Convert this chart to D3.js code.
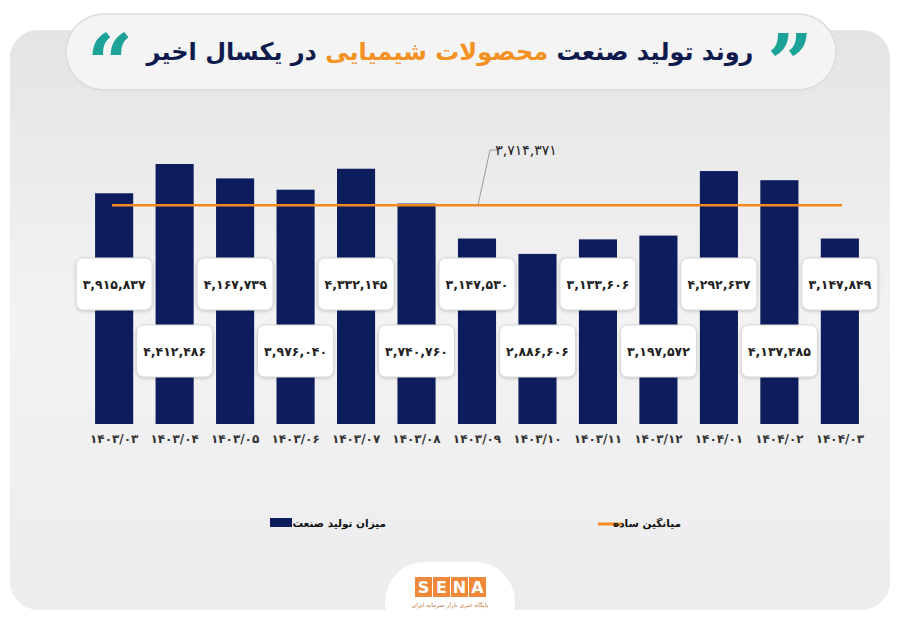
<!DOCTYPE html>
<html><head><meta charset="utf-8">
<script src="https://cdn.jsdelivr.net/npm/d3@7"></script>
<style>body{margin:0;background:#fff}svg{display:block}</style>
</head><body><div id="chart"></div>
<script>
const months = ["1403/03","1403/04","1403/05","1403/06","1403/07","1403/08","1403/09","1403/10","1403/11","1403/12","1404/01","1404/02","1404/03"];
const production = [3915837,4412486,4167739,3976040,4332145,3740760,3147530,2886606,3133606,3197572,4292637,4137485,3147849];
const average = 3714371;

const width = 900, height = 623;
const fa = s => String(s).replace(/\d/g, d => "۰۱۲۳۴۵۶۷۸۹"[d]);
const fmt = v => fa(d3.format(",")(v));
const font = "'DejaVu Sans', sans-serif";

const svg = d3.select("#chart").append("svg")
  .attr("width", width).attr("height", height);

const defs = svg.append("defs");
const grad = defs.append("linearGradient").attr("id", "bg").attr("x1", 0).attr("y1", 0).attr("x2", 0).attr("y2", 1);
grad.append("stop").attr("offset", 0).attr("stop-color", "#e4e4e6");
grad.append("stop").attr("offset", 0.5).attr("stop-color", "#f3f3f4");
grad.append("stop").attr("offset", 1).attr("stop-color", "#ececee");
const shadow = defs.append("filter").attr("id", "sh").attr("x", "-20%").attr("y", "-20%").attr("width", "140%").attr("height", "140%");
shadow.append("feDropShadow").attr("dx", 0).attr("dy", 1).attr("stdDeviation", 1.5).attr("flood-opacity", 0.2);

svg.append("rect").attr("x", 10).attr("y", 30).attr("width", 880).attr("height", 580)
  .attr("rx", 28).attr("fill", "url(#bg)");

// title pill
svg.append("rect").attr("x", 66).attr("y", 14).attr("width", 770).attr("height", 76)
  .attr("rx", 38).attr("fill", "#f4f4f5").attr("stroke", "#dcdcdf").attr("stroke-width", 1.5);
const title = svg.append("text").attr("x", 450).attr("y", 60).attr("text-anchor", "middle")
  .attr("direction", "rtl").attr("font-family", font).attr("font-weight", "bold")
  .attr("font-size", 24).attr("fill", "#0f1a4d");
title.append("tspan").text("روند تولید صنعت ");
title.append("tspan").attr("fill", "#f39223").text("محصولات شیمیایی");
title.append("tspan").text(" در یکسال اخیر");
const q = (xx, ch) => svg.append("text").attr("x", xx).attr("y", 92).attr("text-anchor", "middle")
  .attr("font-family", "'DejaVu Serif', serif").attr("font-weight", "bold").attr("font-size", 80)
  .attr("fill", "#1aa396").text(ch);
q(790, "”");
q(110, "“");

// scales
const x = d3.scaleBand().domain(months).range([83, 871]).paddingInner(0.37).paddingOuter(0.2);
const y = d3.scaleLinear().domain([0, 4412486]).range([424, 164]);

const g = svg.append("g");
g.selectAll("rect.bar").data(production).join("rect").attr("class", "bar")
  .attr("x", (d, i) => x(months[i])).attr("width", x.bandwidth())
  .attr("y", d => y(d)).attr("height", d => y(0) - y(d)).attr("fill", "#0c1c5c");

// average line
g.append("line").attr("x1", 112).attr("x2", 842).attr("y1", y(average)).attr("y2", y(average))
  .attr("stroke", "#f28a1e").attr("stroke-width", 2.5);
g.append("path").attr("d", `M478,${y(average)} L490,150 L500,150`).attr("fill", "none")
  .attr("stroke", "#999").attr("stroke-width", 1);
g.append("text").attr("x", 526).attr("y", 155).attr("text-anchor", "middle")
  .attr("font-family", font).attr("font-size", 14).attr("fill", "#222").text(fmt(average));

// value boxes
const boxes = g.selectAll("g.lbl").data(production).join("g").attr("class", "lbl")
  .attr("transform", (d, i) => `translate(${x(months[i]) + x.bandwidth() / 2},${i % 2 ? 351 : 284})`);
boxes.append("rect").attr("x", -38).attr("y", -26).attr("width", 76).attr("height", 52).attr("rx", 7)
  .attr("fill", "#fff").attr("stroke", "#d8d8d8").attr("filter", "url(#sh)");
boxes.append("text").attr("text-anchor", "middle").attr("dy", 5).attr("font-family", font)
  .attr("font-size", 12.5).attr("font-weight", "bold").attr("fill", "#222").text(d => fmt(d));

// x axis
const ax = svg.append("g").attr("transform", "translate(0,424)")
  .call(d3.axisBottom(x).tickSize(0).tickPadding(10).tickFormat(fa));
ax.select(".domain").remove();
ax.selectAll("text").attr("font-family", font).attr("font-size", 12).attr("font-weight", "bold").attr("fill", "#333");

// legend
const lg = svg.append("g").attr("font-family", font).attr("font-size", 10.5).attr("font-weight", "bold").attr("fill", "#111");
lg.append("rect").attr("x", 270).attr("y", 518).attr("width", 22).attr("height", 9).attr("fill", "#0c1c5c");
lg.append("text").attr("x", 386).attr("y", 527).attr("text-anchor", "end").text("میزان تولید صنعت");
lg.append("line").attr("x1", 598).attr("x2", 622).attr("y1", 524).attr("y2", 524).attr("stroke", "#f28a1e").attr("stroke-width", 3);
lg.append("text").attr("x", 681).attr("y", 527).attr("text-anchor", "end").text("میانگین ساده");

// logo
svg.append("rect").attr("x", 385).attr("y", 562).attr("width", 130).attr("height", 80).attr("rx", 40).attr("fill", "#fff");
const logo = svg.append("g").attr("transform", "translate(415,577)");
["S","E","N","A"].forEach((c, i) => {
  logo.append("rect").attr("x", i * 18).attr("y", 0).attr("width", 17).attr("height", 20).attr("fill", "#f0883a");
  logo.append("text").attr("x", i * 18 + 8.5).attr("y", 16).attr("text-anchor", "middle")
    .attr("font-family", "'DejaVu Sans', sans-serif").attr("font-weight", "bold").attr("font-size", 16)
    .attr("fill", "#fff").text(c);
});
logo.append("text").attr("x", 35).attr("y", 30).attr("text-anchor", "middle")
  .attr("font-family", font).attr("font-size", 6).attr("fill", "#c07a3a").text("پایگاه خبری بازار سرمایه ایران");
</script></body></html>
